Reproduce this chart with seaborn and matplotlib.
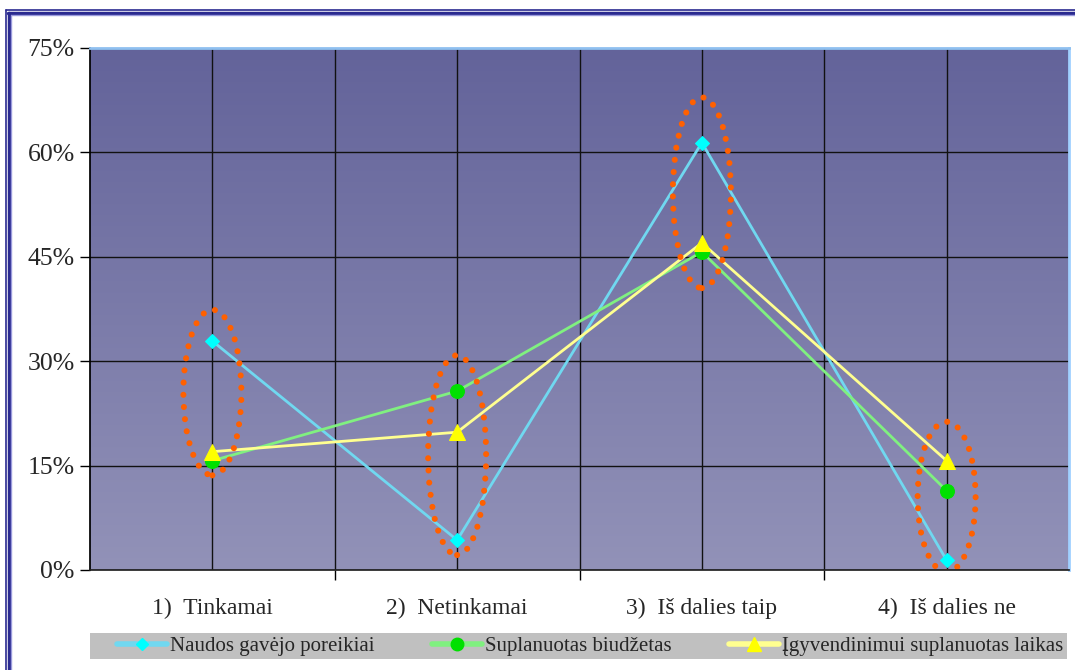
import numpy as np
import pandas as pd
import matplotlib
matplotlib.use("Agg")
import matplotlib.pyplot as plt
import seaborn as sns
from matplotlib.patches import Ellipse, Rectangle
from matplotlib.lines import Line2D

# data (percent)
categories = ["1)  Tinkamai", "2)  Netinkamai", "3)  Iš dalies taip", "4)  Iš dalies ne"]
series_names = ["Naudos gavėjo poreikiai", "Suplanuotas biudžetas", "Įgyvendinimui suplanuotas laikas"]
naudos = [32.9, 4.3, 61.4, 1.4]
biudzetas = [15.7, 25.7, 45.7, 11.4]
laikas = [17.0, 19.8, 47.0, 15.7]
y_ticks = [0, 15, 30, 45, 60, 75]

# highlight ellipses around each category (center %, height %)
ellipse_centers = [25.5, 16.5, 54.2, 10.5]
ellipse_heights = [23.8, 28.7, 27.4, 21.6]

line_colors = ["#70d8f0", "#80f080", "#ffff90"]
marker_colors = ["#00ffff", "#00e000", "#ffff00"]
markers = ["D", "o", "^"]
marker_sizes = [7, 10, 11]

df = pd.DataFrame({
    "x": list(range(len(categories))) * 3,
    "value": naudos + biudzetas + laikas,
    "series": np.repeat(series_names, len(categories)),
})

sns.set_theme(style="white")
plt.rcParams["font.family"] = ["Liberation Serif", "DejaVu Serif"]

fig = plt.figure(figsize=(10.75, 6.70), dpi=100)
ax = fig.add_axes([90 / 1075, 1 - 570 / 670, (1069 - 90) / 1075, (570 - 48) / 670])

# gradient background, dark at top
grad = np.linspace(0, 1, 256).reshape(-1, 1)
cmap = matplotlib.colors.LinearSegmentedColormap.from_list("bg", ["#63639a", "#9292b8"])
ax.imshow(grad, aspect="auto", cmap=cmap, extent=[-0.5, 3.5, 0, 75],
          origin="upper", zorder=0)

for i, name in enumerate(series_names):
    sns.lineplot(
        data=df[df["series"] == name], x="x", y="value",
        color=line_colors[i], linewidth=2, marker=markers[i],
        markersize=marker_sizes[i], markerfacecolor=marker_colors[i],
        markeredgecolor=marker_colors[i], ax=ax, zorder=4, legend=False,
    )

for i, (c, h) in enumerate(zip(ellipse_centers, ellipse_heights)):
    e = Ellipse((i, c), 0.237, h, fill=False, edgecolor="#ff6000",
                linewidth=4.4, linestyle=(0, (0.001, 2.0)),
                capstyle="round", zorder=5)
    ax.add_patch(e)

ax.set_xlim(-0.5, 3.5)
ax.set_ylim(0, 75)
ax.set_yticks(y_ticks)
ax.set_yticklabels([f"{v}%" for v in y_ticks])
ax.set_xticks(range(len(categories)))
ax.set_xticklabels(categories)
ax.set_xticks([0.5, 1.5, 2.5], minor=True)
ax.set_xlabel("")
ax.set_ylabel("")
ax.tick_params(axis="y", which="major", length=7, width=1, color="black",
               labelsize=18.5, pad=4, direction="out", left=True)
ax.tick_params(axis="x", which="major", length=0, labelsize=17, pad=20)
ax.tick_params(axis="x", which="minor", length=7, width=1, color="black",
               direction="out", bottom=True)
ax.grid(True, which="both", axis="x", color="#111111", linewidth=1)
ax.grid(True, which="major", axis="y", color="#111111", linewidth=1)
ax.set_axisbelow(True)

ax.spines["left"].set_color("black")
ax.spines["bottom"].set_color("#222222")
ax.spines["top"].set_color("#8fc0f0")
ax.spines["right"].set_color("#a0d0ff")
ax.spines["top"].set_linewidth(2)
ax.spines["right"].set_linewidth(2)
for sp in ax.spines.values():
    sp.set_zorder(6)

# legend strip
fig.add_artist(Rectangle((90 / 1075, 1 - 659 / 670), (1067 - 90) / 1075, 26 / 670,
                         transform=fig.transFigure, facecolor="#c0c0c0",
                         edgecolor="none", zorder=0))
handles = [
    Line2D([0], [0], color=line_colors[i], linewidth=4, marker=markers[i],
           markersize=marker_sizes[i] - 1, markerfacecolor=marker_colors[i],
           markeredgecolor=marker_colors[i])
    for i in range(3)
]
leg = fig.legend(
    handles, series_names, ncol=3, loc="center left",
    bbox_to_anchor=(117 / 1075, 1 - 646 / 670), frameon=False, fontsize=15,
    handlelength=2.4, handletextpad=0.15, borderpad=0, borderaxespad=0,
    columnspacing=2.75,
)

# outer window-like border
fig.add_artist(Line2D([6 / 1075, 1], [1 - 9.5 / 670] * 2, color="#2a2a90", linewidth=1.2))
fig.add_artist(Line2D([8 / 1075, 1], [1 - 12.5 / 670] * 2, color="#2a2a90", linewidth=2.5))
fig.add_artist(Line2D([8 / 1075, 1], [1 - 14.5 / 670] * 2, color="#9a9adc", linewidth=1))
fig.add_artist(Line2D([6 / 1075] * 2, [0, 1 - 9.5 / 670], color="#2a2a90", linewidth=1.2))
fig.add_artist(Line2D([9 / 1075] * 2, [0, 1 - 12.5 / 670], color="#2a2a90", linewidth=2.5))
fig.add_artist(Line2D([11 / 1075] * 2, [0, 1 - 14.5 / 670], color="#9a9adc", linewidth=1))

fig.savefig("out.png", dpi=100)
